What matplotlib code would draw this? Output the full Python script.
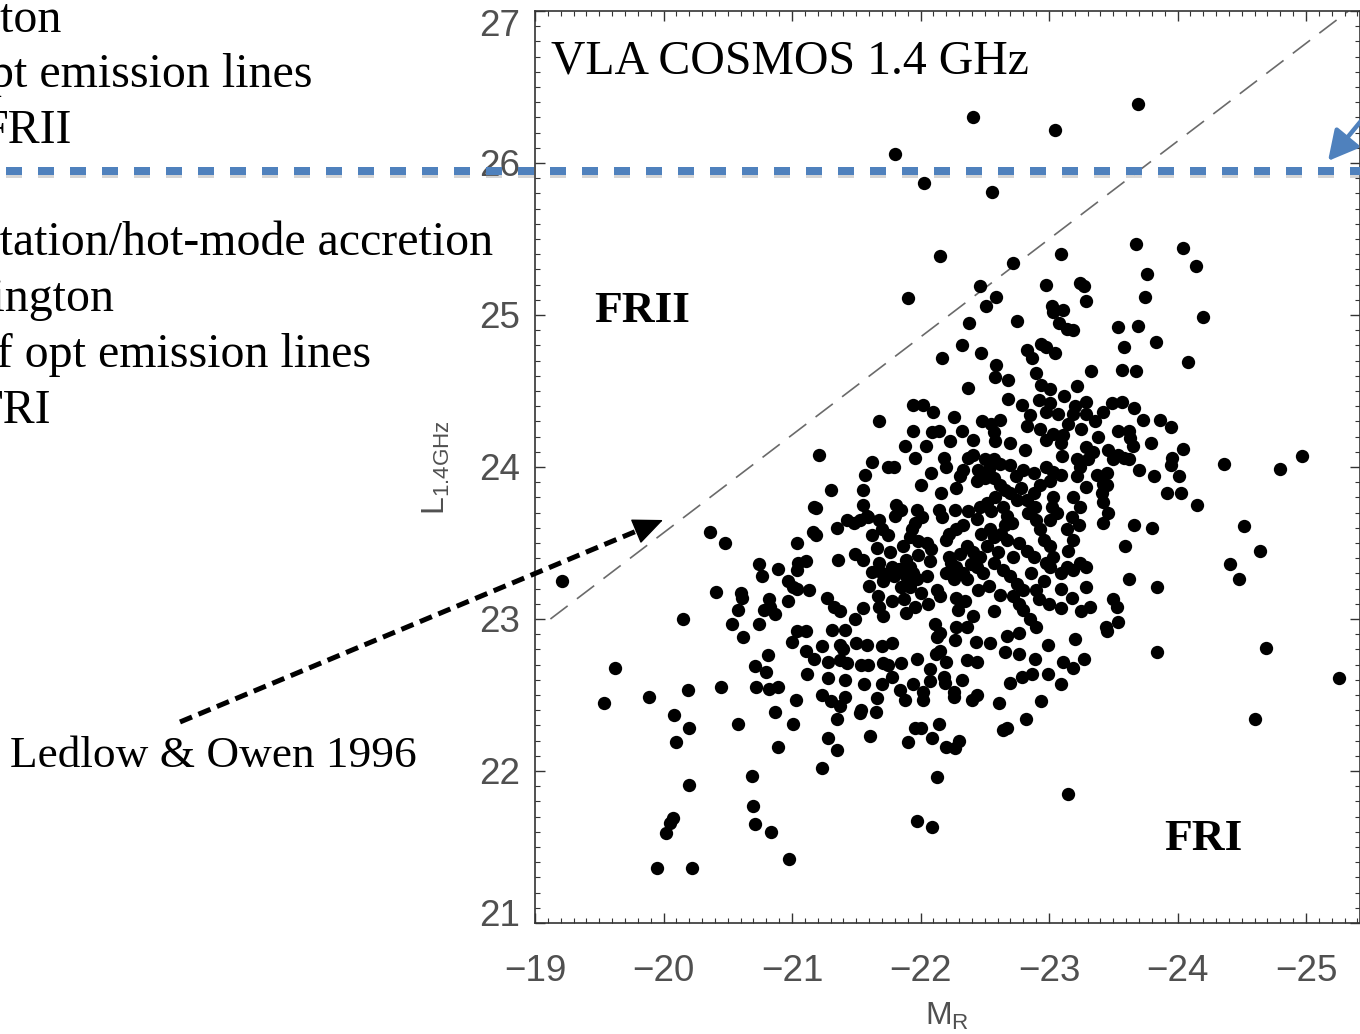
import matplotlib
matplotlib.use("Agg")
import matplotlib.pyplot as plt
from matplotlib.lines import Line2D
from matplotlib.patches import FancyArrowPatch, ArrowStyle
from matplotlib.ticker import MultipleLocator
import matplotlib.patheffects as pe
import matplotlib.transforms as mtransforms

# ---------------- data ----------------
# upper / bright sources
m_upper = [-22.41, -23.05, -21.80, -22.03, -22.56, -22.15, -23.09, -22.72, -21.90, -22.46,
           -22.59, -22.51, -22.98, -23.24, -23.27, -23.29, -23.02, -23.11, -23.03, -23.08,
           -23.14, -23.19, -22.38, -22.75, -22.32, -22.17, -22.47, -22.83, -22.87, -22.94,
           -22.98, -23.05, -23.69, -23.68, -24.04, -24.14, -23.76, -23.75, -24.20, -23.54,
           -23.69, -23.58, -23.83, -24.08]
l_upper = [26.30, 26.22, 26.06, 25.87, 25.81, 25.39, 25.40, 25.34, 25.11, 25.19,
           25.12, 25.06, 25.20, 25.21, 25.19, 25.09, 25.06, 25.03, 25.02, 24.95,
           24.91, 24.90, 24.95, 24.96, 24.80, 24.72, 24.75, 24.77, 24.72, 24.81,
           24.79, 24.75, 26.39, 25.47, 25.44, 25.32, 25.27, 25.12, 24.99, 24.92,
           24.93, 24.79, 24.82, 24.69]

# faint side (left / lower left)
m_left = [-21.21, -19.21, -20.36, -20.48, -21.04, -21.17, -21.19, -21.16, -21.19, -20.74,
          -20.77, -20.89, -21.05, -21.11, -21.04, -20.97, -21.01, -21.04, -21.13, -20.41,
          -20.60, -20.61, -20.58, -20.82, -20.83, -20.78, -20.87, -20.97, -20.15, -20.53,
          -20.74, -21.04, -21.11, -19.62, -19.54, -19.89, -20.19, -20.08, -20.20, -20.10,
          -20.45, -20.58, -20.62, -20.71, -20.81, -20.80, -20.72, -20.82, -20.89, -21.00,
          -21.11, -21.17, -21.12, -21.03, -20.87, -21.01, -20.89, -21.23, -21.23, -20.20,
          -20.69, -20.70, -20.71, -20.84, -20.07, -20.05, -20.02, -20.98, -19.95, -20.22]
l_left = [24.08, 23.25, 23.57, 23.50, 23.50, 23.74, 23.73, 23.57, 23.55, 23.36,
          23.28, 23.33, 23.37, 23.38, 23.32, 23.25, 23.21, 23.20, 23.19, 23.18,
          23.17, 23.14, 23.06, 23.13, 23.08, 23.06, 23.03, 23.12, 23.00, 22.97,
          22.97, 22.92, 22.92, 22.68, 22.45, 22.49, 22.53, 22.37, 22.28, 22.19,
          22.55, 22.31, 22.88, 22.69, 22.76, 22.65, 22.55, 22.54, 22.55, 22.85,
          22.79, 22.74, 22.64, 22.47, 22.39, 22.31, 22.16, 22.50, 22.02, 21.91,
          21.97, 21.77, 21.65, 21.60, 21.69, 21.66, 21.59, 21.42, 21.36, 21.36]

# lower part of the main cloud
m_low = [-23.45, -23.84, -24.69, -25.26, -24.60, -22.13, -23.15, -21.97, -22.09, -21.35,
         -21.28, -21.61, -21.90, -22.09, -21.96, -22.00, -22.14, -22.20, -22.27, -22.30,
         -22.64, -22.67, -22.82, -22.61, -22.94, -21.35, -21.53, -21.54, -21.65, -21.66,
         -21.30, -21.37, -21.41, -21.56, -21.70, -21.78, -21.84, -21.88, -21.94, -22.02,
         -22.02, -22.07, -22.07, -22.18, -22.19, -22.26, -22.26, -22.32, -22.40, -22.44,
         -22.70, -22.79, -22.87, -22.99, -23.09, -23.11, -23.19, -23.27, -22.89, -22.66,
         -22.77, -22.99, -23.20, -22.54, -22.43, -22.27, -22.36, -22.44, -22.20, -22.12,
         -22.15, -21.97, -21.85, -21.71, -21.75, -21.54, -21.59, -21.70, -21.78, -21.58,
         -21.50, -21.37, -21.40, -21.37, -21.43, -21.28, -21.28, -21.41, -21.31, -21.41,
         -22.15, -22.13, -22.67, -22.77, -21.23]
l_low = [22.92, 22.78, 22.81, 22.61, 22.34, 21.96, 21.85, 21.67, 21.63, 22.14,
         22.22, 22.23, 22.19, 22.22, 22.28, 22.28, 22.31, 22.16, 22.15, 22.20,
         22.27, 22.28, 22.34, 22.45, 22.46, 22.34, 22.38, 22.40, 22.39, 22.48,
         22.46, 22.43, 22.49, 22.57, 22.57, 22.62, 22.53, 22.47, 22.57, 22.47,
         22.52, 22.59, 22.67, 22.62, 22.58, 22.52, 22.49, 22.60, 22.47, 22.50,
         22.58, 22.62, 22.64, 22.64, 22.57, 22.72, 22.68, 22.74, 22.74, 22.78,
         22.77, 22.83, 22.87, 22.84, 22.85, 22.86, 22.73, 22.72, 22.72, 22.77,
         22.79, 22.74, 22.71, 22.71, 22.70, 22.70, 22.70, 22.82, 22.84, 22.83,
         22.84, 22.83, 22.80, 22.73, 22.71, 22.72, 22.61, 22.60, 22.93, 22.93,
         22.91, 22.88, 22.89, 22.91, 22.82]

# bright, right-hand side
m_right = [-23.57, -23.68, -23.49, -23.57, -23.66, -23.42, -23.73, -23.86, -23.95, -23.54,
           -23.62, -23.63, -23.65, -23.79, -24.04, -23.46, -23.54, -23.50, -23.58, -23.62,
           -23.96, -23.95, -24.01, -23.70, -23.82, -23.45, -23.42, -23.45, -23.41, -23.42,
           -23.92, -24.03, -24.15, -24.36, -24.80, -24.97, -23.46, -23.42, -23.66, -23.80,
           -24.52, -23.59, -24.64, -24.41, -24.48, -23.62, -23.84, -23.50, -23.53, -23.54,
           -23.44]
l_right = [24.64, 24.63, 24.42, 24.43, 24.39, 24.36, 24.31, 24.31, 24.26, 24.24,
           24.24, 24.19, 24.14, 24.16, 24.12, 24.11, 24.08, 24.05, 24.06, 24.05,
           24.06, 24.01, 23.94, 23.98, 23.94, 23.96, 23.89, 23.88, 23.83, 23.77,
           23.83, 23.83, 23.75, 24.02, 23.99, 24.07, 23.70, 23.63, 23.62, 23.60,
           23.61, 23.48, 23.45, 23.36, 23.26, 23.26, 23.21, 23.13, 23.08, 22.98,
           22.95]

# dense core of the cloud
m_core = [-22.59, -22.58, -22.68, -22.90, -23.33, -22.37, -22.94, -23.01, -23.22, -21.94,
          -22.02, -22.68, -22.79, -22.92, -23.01, -22.85, -22.98, -23.07, -23.29, -23.19,
          -23.29, -21.68, -22.26, -22.62, -22.55, -22.57, -22.83, -22.93, -23.03, -23.11,
          -22.98, -23.09, -23.25, -21.94, -22.09, -22.14, -22.04, -22.23, -22.41, -22.58,
          -22.70, -22.81, -23.29, -23.34, -23.22, -21.62, -21.75, -21.79, -21.96, -22.18,
          -22.37, -22.41, -22.33, -22.31, -22.50, -22.57, -22.62, -22.53, -22.70, -22.80,
          -22.88, -22.74, -22.98, -23.03, -23.09, -23.01, -22.93, -23.24, -23.22, -23.29,
          -21.57, -22.44, -22.50, -22.57, -22.66, -22.70, -22.75, -22.00, -22.16, -22.28,
          -21.30, -21.55, -21.55, -21.58, -21.81, -21.85, -21.80, -21.97, -22.01, -21.96,
          -22.14, -22.17, -22.27, -22.37, -22.46, -22.52, -22.55, -22.44, -22.64, -22.67,
          -22.71, -22.83, -22.89, -22.84, -22.90, -23.03, -23.02, -23.06, -23.01, -23.19,
          -23.24, -23.18, -23.23, -21.43, -21.48, -21.53, -21.59, -21.35, -21.68, -21.70,
          -21.75, -21.93, -21.92, -21.98, -22.05, -22.22, -22.20, -22.28, -22.36, -22.31,
          -22.41, -22.46, -22.52, -22.54, -22.57, -22.63, -22.67, -22.77, -22.83, -22.88,
          -22.72, -22.93, -22.96, -23.01, -23.03, -22.98, -23.14, -23.19, -23.15, -23.24,
          -23.29, -21.49, -21.55, -21.66, -21.36, -21.68, -21.70, -21.71, -21.78, -21.79,
          -21.83, -21.89, -21.92, -21.89, -21.94, -21.85, -21.92, -21.97, -22.00, -22.05,
          -22.07, -22.22, -22.24, -22.20, -22.28, -22.33, -22.26, -22.36, -22.44, -22.49,
          -22.57, -22.64, -22.70, -22.45, -22.75, -22.80, -22.72, -22.77, -22.80, -22.90,
          -22.92, -23.01, -23.09, -23.14, -23.19, -23.09, -23.29, -23.32, -23.09, -21.27,
          -21.33, -21.37, -21.55, -21.49, -21.67, -21.68, -21.71, -21.87, -21.89, -21.96,
          -22.13, -22.15, -22.28, -22.29, -22.41, -22.57, -22.11, -22.28, -22.36, -22.90]
l_core = [24.67, 24.59, 24.57, 24.62, 24.63, 24.52, 24.54, 24.51, 24.53, 24.41,
          24.41, 24.45, 24.41, 24.44, 24.42, 24.34, 24.36, 24.35, 24.43, 24.35,
          24.35, 24.30, 24.33, 24.31, 24.28, 24.23, 24.27, 24.25, 24.22, 24.21,
          24.18, 24.16, 24.25, 24.24, 24.23, 24.24, 24.14, 24.17, 24.18, 24.17,
          24.16, 24.11, 24.13, 24.10, 24.05, 24.03, 24.00, 24.00, 24.06, 24.06,
          24.06, 24.08, 23.98, 23.94, 24.05, 24.05, 24.02, 23.99, 24.01, 23.98,
          23.96, 23.94, 24.00, 23.97, 23.95, 23.91, 23.88, 24.00, 23.94, 23.87,
          23.95, 23.91, 23.93, 23.93, 23.85, 23.83, 23.78, 23.88, 23.83, 23.86,
          23.85, 23.85, 23.75, 23.68, 23.75, 23.72, 23.68, 23.72, 23.67, 23.63,
          23.72, 23.67, 23.72, 23.71, 23.74, 23.76, 23.71, 23.66, 23.74, 23.68,
          23.63, 23.78, 23.74, 23.70, 23.65, 23.80, 23.74, 23.70, 23.65, 23.80,
          23.74, 23.67, 23.62, 23.65, 23.63, 23.65, 23.67, 23.60, 23.65, 23.59,
          23.55, 23.59, 23.54, 23.51, 23.50, 23.56, 23.52, 23.59, 23.48, 23.43,
          23.44, 23.41, 23.48, 23.59, 23.54, 23.56, 23.52, 23.50, 23.45, 23.41,
          23.41, 23.59, 23.52, 23.48, 23.41, 23.37, 23.59, 23.52, 23.45, 23.37,
          23.34, 23.43, 23.39, 23.47, 23.39, 23.37, 23.30, 23.25, 23.34, 23.28,
          23.33, 23.39, 23.34, 23.28, 23.30, 23.21, 23.21, 23.26, 23.17, 23.28,
          23.38, 23.41, 23.37, 23.30, 23.34, 23.30, 23.26, 23.26, 23.34, 23.30,
          23.37, 23.32, 23.28, 23.19, 23.23, 23.19, 23.15, 23.10, 23.06, 23.19,
          23.13, 23.34, 23.30, 23.34, 23.32, 23.20, 23.21, 23.08, 23.07, 23.14,
          23.08, 23.05, 23.07, 23.00, 23.15, 23.08, 23.02, 23.13, 23.04, 23.08,
          23.19, 23.15, 23.14, 23.06, 23.02, 23.05, 22.97, 22.95, 22.95, 22.95]

# extra sources in the most crowded (overlapping) parts of the cloud
m_crowd = [-23.12, -23.20, -23.36, -23.15, -23.38, -23.30, -23.10, -23.37,
           -22.33, -22.47, -22.60, -22.39, -22.53, -22.62, -22.35, -22.66,
           -21.62, -21.76, -21.86, -21.98, -22.08, -21.60, -21.78, -22.06, -21.62,
           -22.86, -22.96, -23.18, -23.25, -22.85, -23.00,
           -22.10, -22.32, -22.48, -22.20, -22.45, -22.08, -21.88,
           -22.62, -22.78, -22.88, -22.58]
l_crowd = [24.47, 24.40, 24.30, 24.28, 24.20, 24.05, 24.07, 23.95,
           23.62, 23.56, 23.44, 23.36, 23.22, 23.16, 23.12, 23.62,
           23.55, 23.44, 23.48, 23.42, 23.46, 23.22, 23.12, 23.10, 23.31,
           23.30, 23.25, 23.14, 23.05, 23.00, 23.10,
           24.36, 24.24, 24.30, 24.00, 23.98, 23.96, 24.14,
           23.88, 23.86, 23.83, 23.80]

m_r = m_upper + m_left + m_low + m_right + m_core + m_crowd
log_l = l_upper + l_left + l_low + l_right + l_core + l_crowd

x_ticks = [-19, -20, -21, -22, -23, -24, -25]
y_ticks = [21, 22, 23, 24, 25, 26, 27]
x_range = (-19, -25.42)
y_range = (21, 27)

# Ledlow & Owen (1996) FRI/FRII division
lo_m = [-19.12, -25.33]
lo_l = [23.0, 27.0]
# luminosity of the horizontal (blue) division
split_l = 25.95

left_lines = [  # (text, right end x px, baseline y px)
    ("Near-Eddington", 62, 32),
    ("strong opt emission lines", 313, 87),
    ("FRII", 72, 143),
    ("Low-excitation/hot-mode accretion", 493, 255),
    ("Sub-Eddington", 115, 311),
    ("lack of opt emission lines", 371, 367),
    ("FRI", 51, 423),
]

# ---------------- figure ----------------
W, H = 1360, 1034
plt.rcParams["mathtext.fontset"] = "custom"
plt.rcParams["mathtext.rm"] = "Liberation Sans"
plt.rcParams["mathtext.it"] = "Liberation Sans:italic"
SANS = "Liberation Sans"
SERIF = "Liberation Serif"
GREY = "#505050"

fig = plt.figure(figsize=(W / 100, H / 100), dpi=100)
fig.patch.set_facecolor("white")
ax = fig.add_axes([535 / W, 1 - 923 / H, 825 / W, 912 / H])
ax.set_xlim(*x_range)
ax.set_ylim(*y_range)

ax.scatter(m_r, log_l, s=92, c="black", linewidths=0, zorder=3)
ax.plot(lo_m, lo_l, color="#6a6a6a", lw=1.2, dashes=(13, 7), zorder=2)

ax.set_xticks(x_ticks)
ax.set_yticks(y_ticks)
ax.set_yticklabels(["" if v in (21, 27) else str(v) for v in y_ticks])
ax.xaxis.set_minor_locator(MultipleLocator(0.1))
ax.yaxis.set_minor_locator(MultipleLocator(0.1))
ax.tick_params(which="both", direction="in", top=True, right=True, color="#333333")
ax.tick_params(which="major", length=7.5, width=1.0)
ax.tick_params(which="minor", length=3.8, width=0.8)
ax.tick_params(axis="x", pad=22, labelsize=26.5, labelcolor=GREY)
ax.tick_params(axis="y", pad=11, labelsize=26.5, labelcolor=GREY)
for lab in ax.get_xticklabels() + ax.get_yticklabels():
    lab.set_family(SANS)
for sp in ax.spines.values():
    sp.set_color("#333333")
    sp.set_linewidth(1.2)

# the extreme y labels sit slightly inside the axis range, as in the original
for v, ypx in ((27, 22), (21, 912)):
    fig.text(520 / W, 1 - ypx / H, str(v), ha="right", va="center_baseline",
             fontsize=26.5, color=GREY, family=SANS)

fig.text(436 / W, 1 - 468 / H, r"L$_{\mathrm{1.4GHz}}$", rotation=90, ha="center",
         va="center", fontsize=23, color=GREY, family=SANS)
fig.text(947 / W, 1 - 1016 / H, r"M$_{\mathrm{R}}$", ha="center", va="center",
         fontsize=23, color=GREY, family=SANS)

# in-plot labels
fig.text(551 / W, 1 - 73 / H, "VLA COSMOS 1.4 GHz", fontsize=34.4, family=SERIF,
         va="baseline", ha="left")
ax.text(-19.46, 24.955, "FRII", fontsize=32.7, family=SERIF, weight="bold",
        va="baseline", ha="left")
ax.text(-23.90, 21.48, "FRI", fontsize=32.7, family=SERIF, weight="bold",
        va="baseline", ha="left")

# slide text on the left (cut by the left edge, as in the original)
for txt, xr, yb in left_lines:
    fig.text(xr / W, 1 - yb / H, txt, fontsize=34.5, family=SERIF, ha="right",
             va="baseline")
fig.text(10 / W, 1 - 767 / H, "Ledlow & Owen 1996", fontsize=32.6, family=SERIF,
         ha="left", va="baseline")

# blue dashed horizontal divider across the slide
trans = mtransforms.blended_transform_factory(fig.transFigure, ax.transData)
blue = "#4f81bd"
bl = Line2D([0, 1], [split_l, split_l], transform=trans, color=blue, lw=5.76,
            linestyle=(3.25, (2, 2)), dash_capstyle="butt", clip_on=False, zorder=5,
            path_effects=[pe.SimpleLineShadow(offset=(0.0, -2.5), shadow_color="#8a8a8a",
                                              alpha=0.35), pe.Normal()])
fig.add_artist(bl)

# blue arrow (top right)
fig.add_artist(FancyArrowPatch(posA=(1.011, 0.8994), posB=(1328 / W, 1 - 161 / H),
                               transform=fig.transFigure,
                               arrowstyle=ArrowStyle("-|>", head_length=18, head_width=9.5),
                               color=blue, lw=3.2, shrinkA=0, shrinkB=0, zorder=6))

# black dotted arrow to the Ledlow & Owen line: dashed shaft + solid head
tail = (180 / W, 1 - 722 / H)
tip = (663 / W, 1 - 520 / H)
dx, dy = (tip[0] - tail[0]) * W, (tip[1] - tail[1]) * H
dist = (dx ** 2 + dy ** 2) ** 0.5
hl = 27.0
base = (tip[0] - dx / dist * hl / W, tip[1] - dy / dist * hl / H)
fig.add_artist(Line2D([tail[0], base[0]], [tail[1], base[1]], transform=fig.transFigure,
                      color="black", lw=3.6, linestyle=(0, (2.6, 1.4)),
                      dash_capstyle="butt", zorder=6))
pre = (tip[0] - dx / dist * (hl + 2) / W, tip[1] - dy / dist * (hl + 2) / H)
fig.add_artist(FancyArrowPatch(posA=pre, posB=tip, transform=fig.transFigure,
                               arrowstyle=ArrowStyle("-|>", head_length=19.5, head_width=8.5),
                               color="black", lw=1.0, shrinkA=0, shrinkB=0, zorder=6))

fig.savefig("out.png", dpi=100, facecolor="white")
